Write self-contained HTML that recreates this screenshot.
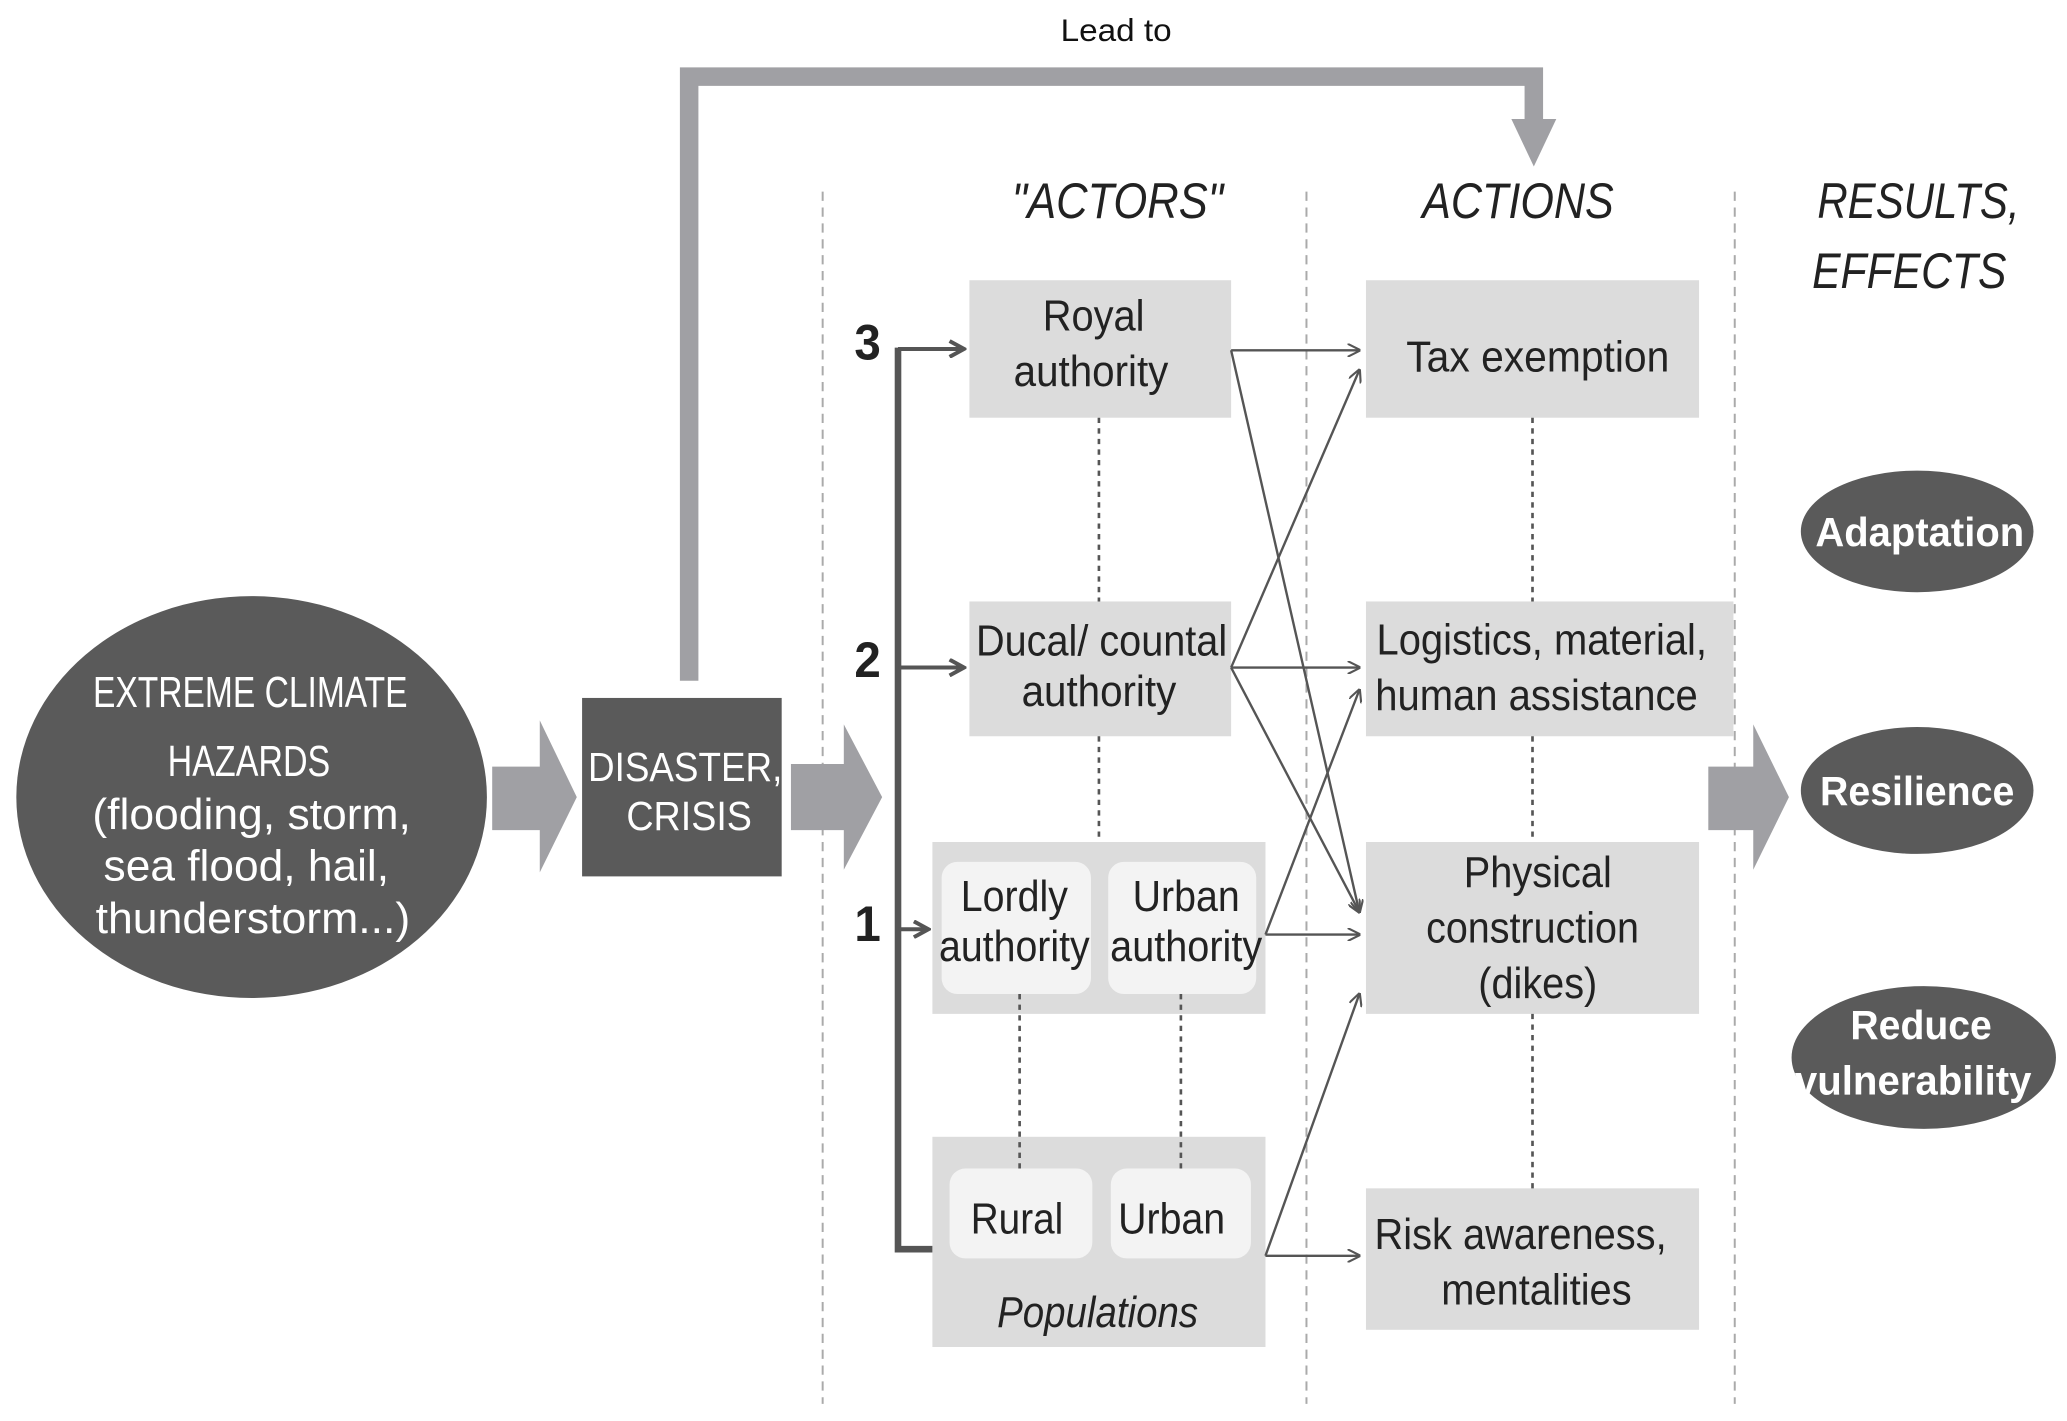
<!DOCTYPE html>
<html><head><meta charset="utf-8"><style>
html,body{margin:0;padding:0;background:#fff;}
svg{display:block;}
text{font-family:"Liberation Sans Narrow","Liberation Sans",sans-serif;}
</style></head><body>
<svg width="2067" height="1421" viewBox="0 0 1563 1075" xmlns="http://www.w3.org/2000/svg">
<defs>
<marker id="a" markerWidth="10" markerHeight="10" refX="9" refY="5" orient="auto" markerUnits="userSpaceOnUse"><path d="M0,0 L10,5 L0,10" fill="none" stroke="#555" stroke-width="1.6"/></marker>
<marker id="b" markerWidth="14" markerHeight="14" refX="12" refY="7" orient="auto" markerUnits="userSpaceOnUse"><path d="M1,1 L12,7 L1,13" fill="none" stroke="#555" stroke-width="3"/></marker>
</defs>
<g stroke="#aaa" stroke-width="1.5" stroke-dasharray="7,5">
<line x1="622" y1="145" x2="622" y2="1062"/><line x1="988" y1="145" x2="988" y2="1062"/><line x1="1312" y1="145" x2="1312" y2="1062"/>
</g>
<path d="M521,515 V58 H1160 V98" fill="none" stroke="#a0a0a4" stroke-width="14"/>
<polygon points="1143,90 1177,90 1160,126" fill="#a0a0a4"/>
<g text-anchor="middle" lengthAdjust="spacingAndGlyphs">
<text x="844" y="31" font-size="24" fill="#111" textLength="84" lengthAdjust="spacingAndGlyphs">Lead to</text>
<g font-size="38" font-style="italic" fill="#222">
<text x="845" y="165" textLength="160" lengthAdjust="spacingAndGlyphs">"ACTORS"</text>
<text x="1148" y="165" textLength="145" lengthAdjust="spacingAndGlyphs">ACTIONS</text>
<text x="1451" y="165" textLength="153" lengthAdjust="spacingAndGlyphs">RESULTS,</text>
<text x="1444" y="218" textLength="147" lengthAdjust="spacingAndGlyphs">EFFECTS</text>
</g>
</g>
<ellipse cx="190" cy="603" rx="178" ry="152" fill="#5a5a5a"/>
<g fill="#fff" text-anchor="middle" font-size="33">
<text x="189" y="535" textLength="238" lengthAdjust="spacingAndGlyphs">EXTREME CLIMATE</text>
<text x="188" y="587" textLength="123" lengthAdjust="spacingAndGlyphs">HAZARDS</text>
<text x="190" y="627" textLength="241" lengthAdjust="spacingAndGlyphs">(flooding, storm,</text>
<text x="186" y="666" textLength="216" lengthAdjust="spacingAndGlyphs">sea flood, hail,</text>
<text x="191" y="706" textLength="238" lengthAdjust="spacingAndGlyphs">thunderstorm...)</text>
</g>
<g fill="#a0a0a4">
<polygon points="372,580 408,580 408,545 436,603 408,660 408,628 372,628"/>
<polygon points="598,578 638,578 638,548 667,603 638,658 638,628 598,628"/>
<polygon points="1292,580 1326,580 1326,548 1353,603 1326,658 1326,628 1292,628"/>
</g>
<rect x="440" y="528" width="151" height="135" fill="#5a5a5a"/>
<g fill="#fff" text-anchor="middle" font-size="31">
<text x="518" y="591" textLength="147" lengthAdjust="spacingAndGlyphs">DISASTER,</text>
<text x="521" y="628" textLength="95" lengthAdjust="spacingAndGlyphs">CRISIS</text>
</g>
<g fill="#dcdcdc">
<rect x="733" y="212" width="198" height="104"/><rect x="733" y="455" width="198" height="102"/>
<rect x="705" y="637" width="252" height="130"/><rect x="705" y="860" width="252" height="159"/>
<rect x="1033" y="212" width="252" height="104"/><rect x="1033" y="455" width="278" height="102"/>
<rect x="1033" y="637" width="252" height="130"/><rect x="1033" y="899" width="252" height="107"/>
</g>
<g fill="#f3f3f3">
<rect x="712" y="652" width="113" height="100" rx="12"/><rect x="838" y="652" width="112" height="100" rx="12"/>
<rect x="718" y="884" width="108" height="68" rx="12"/><rect x="840" y="884" width="106" height="68" rx="12"/>
</g>
<g stroke="#555" stroke-width="2" stroke-dasharray="4,4">
<line x1="831" y1="316" x2="831" y2="455"/><line x1="831" y1="557" x2="831" y2="637"/>
<line x1="771" y1="752" x2="771" y2="884"/><line x1="893" y1="752" x2="893" y2="884"/>
<line x1="1159" y1="316" x2="1159" y2="455"/><line x1="1159" y1="557" x2="1159" y2="637"/><line x1="1159" y1="767" x2="1159" y2="899"/>
</g>
<path d="M705,945 H679 V263" fill="none" stroke="#555" stroke-width="5"/>
<g stroke="#555" stroke-width="3" fill="none">
<line x1="679" y1="264" x2="729" y2="264" marker-end="url(#b)"/>
<line x1="679" y1="505" x2="729" y2="505" marker-end="url(#b)"/>
<line x1="679" y1="703" x2="702" y2="703" marker-end="url(#b)"/>
</g>
<g font-size="38" font-weight="bold" fill="#222" text-anchor="middle">
<text x="656" y="272" textLength="20" lengthAdjust="spacingAndGlyphs">3</text>
<text x="656" y="512" textLength="20" lengthAdjust="spacingAndGlyphs">2</text>
<text x="656" y="712" textLength="20" lengthAdjust="spacingAndGlyphs">1</text>
</g>
<g stroke="#555" stroke-width="1.8" fill="none" marker-end="url(#a)">
<line x1="931" y1="265" x2="1028" y2="265"/>
<line x1="931" y1="265" x2="1028" y2="690"/>
<line x1="931" y1="505" x2="1028" y2="280"/>
<line x1="931" y1="505" x2="1028" y2="505"/>
<line x1="931" y1="505" x2="1028" y2="690"/>
<line x1="957" y1="707" x2="1028" y2="707"/>
<line x1="957" y1="707" x2="1028" y2="522"/>
<line x1="957" y1="950" x2="1028" y2="752"/>
<line x1="957" y1="950" x2="1028" y2="950"/>
</g>
<g font-size="33" fill="#222" text-anchor="middle">
<text x="827" y="250" textLength="77" lengthAdjust="spacingAndGlyphs">Royal</text>
<text x="825" y="292" textLength="117" lengthAdjust="spacingAndGlyphs">authority</text>
<text x="833" y="496" textLength="190" lengthAdjust="spacingAndGlyphs">Ducal/ countal</text>
<text x="831" y="534" textLength="117" lengthAdjust="spacingAndGlyphs">authority</text>
<text x="767" y="689" textLength="81" lengthAdjust="spacingAndGlyphs">Lordly</text>
<text x="767" y="727" textLength="114" lengthAdjust="spacingAndGlyphs">authority</text>
<text x="897" y="689" textLength="81" lengthAdjust="spacingAndGlyphs">Urban</text>
<text x="897" y="727" textLength="115" lengthAdjust="spacingAndGlyphs">authority</text>
<text x="769" y="933" textLength="70" lengthAdjust="spacingAndGlyphs">Rural</text>
<text x="886" y="933" textLength="81" lengthAdjust="spacingAndGlyphs">Urban</text>
<text x="830" y="1004" font-style="italic" textLength="152" lengthAdjust="spacingAndGlyphs">Populations</text>
<text x="1163" y="281" textLength="199" lengthAdjust="spacingAndGlyphs">Tax exemption</text>
<text x="1166" y="495" textLength="250" lengthAdjust="spacingAndGlyphs">Logistics, material,</text>
<text x="1162" y="537" textLength="244" lengthAdjust="spacingAndGlyphs">human assistance</text>
<text x="1163" y="671" textLength="112" lengthAdjust="spacingAndGlyphs">Physical</text>
<text x="1159" y="713" textLength="161" lengthAdjust="spacingAndGlyphs">construction</text>
<text x="1163" y="755" textLength="90" lengthAdjust="spacingAndGlyphs">(dikes)</text>
<text x="1150" y="945" textLength="221" lengthAdjust="spacingAndGlyphs">Risk awareness,</text>
<text x="1162" y="987" textLength="144" lengthAdjust="spacingAndGlyphs">mentalities</text>
</g>
<g fill="#5a5a5a">
<ellipse cx="1450" cy="402" rx="88" ry="46"/><ellipse cx="1450" cy="598" rx="88" ry="48"/><ellipse cx="1455" cy="800" rx="100" ry="54"/>
</g>
<g fill="#fff" font-size="31" font-weight="bold" text-anchor="middle">
<text x="1452" y="413" textLength="158" lengthAdjust="spacingAndGlyphs">Adaptation</text>
<text x="1450" y="609" textLength="147" lengthAdjust="spacingAndGlyphs">Resilience</text>
<text x="1453" y="786" textLength="107" lengthAdjust="spacingAndGlyphs">Reduce</text>
<text x="1447" y="828" textLength="179" lengthAdjust="spacingAndGlyphs">vulnerability</text>
</g>
</svg>
</body></html>
